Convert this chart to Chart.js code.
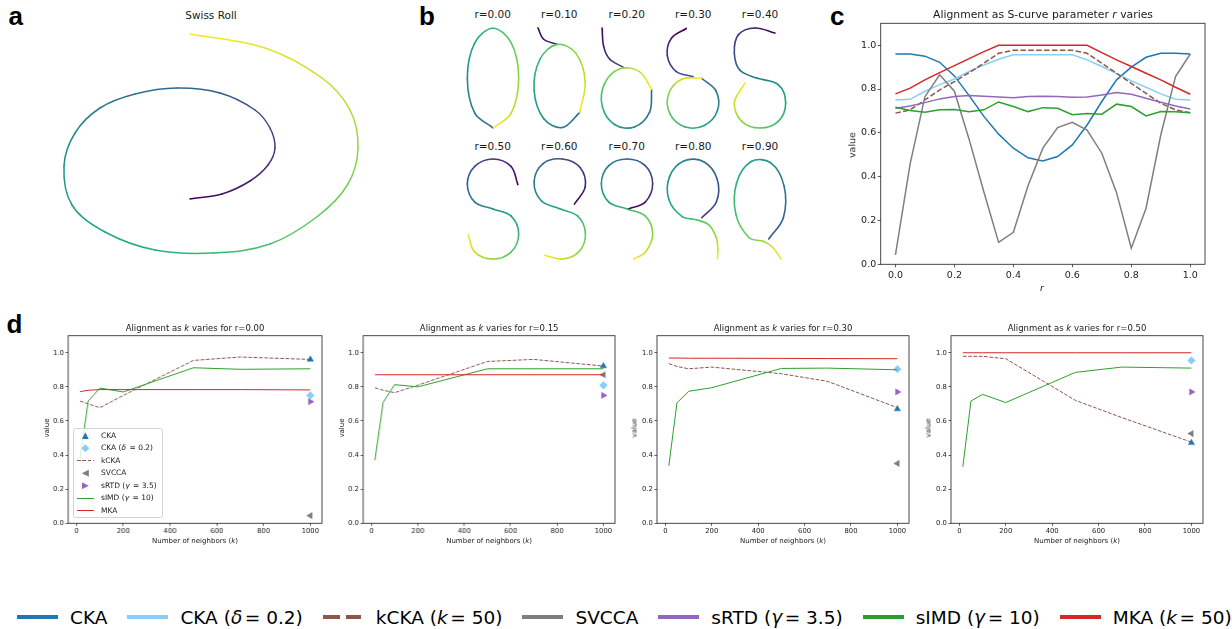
<!DOCTYPE html>
<html>
<head>
<meta charset="utf-8">
<title>Alignment figure</title>
<script src="https://cdn.jsdelivr.net/npm/chart.js@4.4.1/dist/chart.umd.min.js"></script>
<style>
  body { margin: 0; width: 1232px; height: 629px; position: relative; overflow: hidden; background: #fff;
         font-family: "DejaVu Sans", sans-serif; color: #1a1a1a; }
  canvas { position: absolute; }
  #figLegend i, #dLegend i { margin-right: 0.14em; }
  .txt { position: absolute; white-space: nowrap; line-height: 1; transform: translate(-50%, -50%); }
  .panel { position: absolute; font: bold 26px "Liberation Sans", Arial, sans-serif; line-height: 1; color: #000; }
  #figLegend { position: absolute; left: 17px; top: 605px; height: 24px; display: flex; align-items: center;
               font-size: 18.5px; color: #000; white-space: nowrap; }
  #figLegend .item { display: flex; align-items: center; margin-right: 20px; }
  #figLegend .h { width: 41px; height: 3.5px; margin-right: 12px; }
  #dLegend { position: absolute; left: 73.3px; top: 428.3px; width: 90px; height: 90px; box-sizing: border-box;
             border: 1px solid #d4d4d4; border-radius: 2.5px; background: rgba(255,255,255,0.8);
             font-size: 7.5px; color: #1a1a1a; z-index: 2; }
  #dLegend .row { position: absolute; left: 0; height: 0; width: 100%; }
  #dLegend .mk { position: absolute; left: 7.5px; top: -3.5px; width: 7px; height: 7px; }
  #dLegend .ln { position: absolute; left: 2.7px; top: -0.6px; width: 17.3px; height: 1.2px; }
  #dLegend .lt { position: absolute; left: 26.7px; top: 0; transform: translateY(-50%); line-height: 1; white-space: nowrap; }
  .up { clip-path: polygon(50% 0, 100% 100%, 0 100%); }
  .dia { clip-path: polygon(50% 0, 100% 50%, 50% 100%, 0 50%); }
  .left { clip-path: polygon(0 50%, 100% 0, 100% 100%); }
  .right { clip-path: polygon(0 0, 100% 50%, 0 100%); }
</style>
</head>
<body>
<div class="panel" style="left:8.5px;top:3px">a</div>
<div class="panel" style="left:419px;top:3px">b</div>
<div class="panel" style="left:830px;top:3px">c</div>
<div class="panel" style="left:6.5px;top:310.7px">d</div>

<div id="dLegend">
  <div class="row" style="top:6.5px"><span class="mk up" style="background:#1f77b4"></span><span class="lt">CKA</span></div>
  <div class="row" style="top:19px"><span class="mk dia" style="background:#87cefa;left:7px;width:8px;height:8px;top:-4px"></span><span class="lt">CKA (<i>δ</i> = 0.2)</span></div>
  <div class="row" style="top:31.5px"><span class="ln" style="background:repeating-linear-gradient(90deg,#8c564b 0 3.7px,transparent 3.7px 5.3px)"></span><span class="lt">kCKA</span></div>
  <div class="row" style="top:44px"><span class="mk left" style="background:#7f7f7f"></span><span class="lt">SVCCA</span></div>
  <div class="row" style="top:56.5px"><span class="mk right" style="background:#9467bd"></span><span class="lt">sRTD (<i>γ</i> = 3.5)</span></div>
  <div class="row" style="top:69px"><span class="ln" style="background:#2ca02c"></span><span class="lt">sIMD (<i>γ</i> = 10)</span></div>
  <div class="row" style="top:81.5px"><span class="ln" style="background:#d62728"></span><span class="lt">MKA</span></div>
</div>

<div id="figLegend">
  <span class="item"><span class="h" style="background:#1f77b4"></span>CKA</span>
  <span class="item"><span class="h" style="background:#87cefa"></span>CKA (<i>δ</i> = 0.2)</span>
  <span class="item"><span class="h" style="background:linear-gradient(90deg,#8c564b 0 17px,transparent 17px 23px,#8c564b 23px 38px,transparent 38px)"></span>kCKA (<i>k</i> = 50)</span>
  <span class="item"><span class="h" style="background:#7f7f7f"></span>SVCCA</span>
  <span class="item"><span class="h" style="background:#9467bd"></span>sRTD (<i>γ</i> = 3.5)</span>
  <span class="item"><span class="h" style="background:#2ca02c"></span>sIMD (<i>γ</i> = 10)</span>
  <span class="item"><span class="h" style="background:#d62728"></span>MKA (<i>k</i> = 50)</span>
</div>

<script>
// ---------- data ----------

// a: swiss roll, from the inner (purple) end to the outer (yellow) end
const rollX = [0, 0.32, 0.60, 0.78, 0.85, 0.80, 0.65, 0.30, -0.13, -0.55, -0.90, -1.15, -1.26,
               -1.18, -0.85, -0.35, 0.23, 0.80, 1.28, 1.58, 1.68, 1.60, 1.32, 0.75, 0];
const rollY = [-0.49, -0.44, -0.31, -0.15, 0.02, 0.22, 0.40, 0.57, 0.62, 0.56, 0.42, 0.17, -0.16,
               -0.55, -0.82, -1.0, -1.03, -0.94, -0.66, -0.34, 0.02, 0.40, 0.72, 1.02, 1.16];

// b: S-curve for each r, in circle-radius units; each piece is [tStart, tEnd, points]
const curveR00 = [[0.33, 1.0, [[0, -1.94], [-0.71, -1.37], [-1, 0], [-0.71, 1.37], [0, 1.94], [0.71, 1.37], [1, 0], [0.71, -1.37], [0.02, -1.94]]]];
const curveR10 = [
  [0.0, 0.12, [[-0.82, 1.95], [-0.60, 1.51], [-0.10, 1.32]]],
  [0.33, 1.0, [[0.81, -1.34], [0.13, -1.93], [-0.60, -1.58], [-0.97, -0.48], [-0.75, 0.72], [-0.07, 1.31], [0.66, 0.96], [1.02, -0.14], [0.81, -1.34]]]
];
const curveR20 = [
  [0.0, 0.2, [[-0.97, 1.95], [-0.91, 1.23], [-0.68, 0.74], [-0.15, 0.42]]],
  [0.3, 1.0, [[0.96, -0.44], [0.88, -1.33], [0.29, -1.91], [-0.47, -1.82], [-0.96, -1.12], [-0.88, -0.23], [-0.29, 0.35], [0.47, 0.26], [0.96, -0.44]]]
];
const curveR30 = [
  [0.0, 0.28, [[-0.26, 1.93], [-0.84, 1.55], [-1.0, 0.87], [-0.66, 0.26], [0.01, 0.05]]],
  [0.3, 1.0, [[0.33, -0.01], [0.90, -0.51], [0.95, -1.28], [0.44, -1.85], [-0.33, -1.90], [-0.90, -1.39], [-0.95, -0.62], [-0.44, -0.05], [0.33, -0.01]]]
];
const curveR40 = [[0.0, 1.0, [[0.58, 1.75], [-0.19, 1.95], [-0.84, 1.69], [-1.0, 0.97], [-0.78, 0.30], [-0.13, 0.0], [0.71, -0.26], [1.0, -0.97], [0.71, -1.69], [0, -1.95], [-0.71, -1.69], [-1.0, -0.97], [-0.58, -0.19]]]];
const curveR50 = [[0.0, 1.0, [[0.97, 0.95], [0.70, 1.66], [0, 1.95], [-0.71, 1.66], [-1.0, 0.97], [-0.71, 0.27], [0, 0], [0.70, -0.27], [1.0, -0.97], [0.70, -1.68], [0, -1.95], [-0.71, -1.68], [-0.97, -1.0]]]];
const curveR60 = [[0.0, 1.0, [[0.60, 0.19], [1.02, 0.86], [0.82, 1.62], [0.13, 1.95], [-0.62, 1.77], [-0.97, 1.06], [-0.69, 0.32], [0.03, 0.01], [0.72, -0.27], [1.03, -0.94], [0.79, -1.65], [0.14, -1.95], [-0.57, -1.80]]]];
const curveR70 = [[0.0, 1.0, [[0.05, 0.0], [0.71, 0.27], [1.0, 0.98], [0.71, 1.69], [0, 1.95], [-0.71, 1.69], [-1.0, 0.98], [-0.71, 0.27], [0, 0], [0.71, -0.27], [1.0, -0.98], [0.71, -1.69], [0.26, -1.95]]]];
const curveR80 = [[0.15, 1.0, [[0.34, -0.34], [0.91, 0.27], [0.94, 1.17], [0.42, 1.84], [-0.34, 1.88], [-0.91, 1.27], [-0.94, 0.37], [-0.42, -0.30], [0.13, -0.42], [0.62, -0.62], [0.90, -1.10], [0.97, -1.55], [0.95, -1.95]]]];
const curveR90 = [[0.25, 1.0, [[0.34, -1.17], [0.91, -0.34], [0.94, 0.89], [0.42, 1.80], [-0.34, 1.85], [-0.91, 1.02], [-0.94, -0.21], [-0.42, -1.12], [0.13, -1.26], [0.50, -1.50], [0.82, -1.95]]]];
const sCurves = [curveR00, curveR10, curveR20, curveR30, curveR40, curveR50, curveR60, curveR70, curveR80, curveR90];
const sCurveLabels = ["r=0.00", "r=0.10", "r=0.20", "r=0.30", "r=0.40", "r=0.50", "r=0.60", "r=0.70", "r=0.80", "r=0.90"];

// c: alignment vs r
const rValues = [0, 0.05, 0.1, 0.15, 0.2, 0.25, 0.3, 0.35, 0.4, 0.45, 0.5, 0.55, 0.6, 0.65, 0.7, 0.75, 0.8, 0.85, 0.9, 0.95, 1.0];
const ckaC      = [0.96, 0.96, 0.95, 0.922, 0.86, 0.77, 0.675, 0.594, 0.53, 0.486, 0.472, 0.492, 0.545, 0.636, 0.743, 0.842, 0.90, 0.945, 0.963, 0.963, 0.96];
const ckaDeltaC = [0.75, 0.753, 0.79, 0.82, 0.846, 0.88, 0.91, 0.936, 0.956, 0.956, 0.956, 0.956, 0.956, 0.933, 0.903, 0.87, 0.837, 0.808, 0.778, 0.753, 0.75];
const kckaC     = [0.69, 0.705, 0.75, 0.796, 0.834, 0.875, 0.918, 0.963, 0.977, 0.977, 0.977, 0.977, 0.977, 0.963, 0.918, 0.872, 0.826, 0.78, 0.735, 0.705, 0.692];
const svccaC    = [0.043, 0.46, 0.765, 0.865, 0.79, 0.57, 0.33, 0.10, 0.146, 0.36, 0.53, 0.624, 0.648, 0.613, 0.507, 0.327, 0.073, 0.256, 0.59, 0.857, 0.96];
const srtdC     = [0.712, 0.723, 0.738, 0.755, 0.766, 0.77, 0.767, 0.764, 0.76, 0.766, 0.767, 0.766, 0.763, 0.764, 0.773, 0.784, 0.776, 0.758, 0.74, 0.723, 0.709];
const simdC     = [0.717, 0.702, 0.694, 0.705, 0.706, 0.696, 0.705, 0.741, 0.72, 0.697, 0.715, 0.712, 0.683, 0.688, 0.685, 0.731, 0.72, 0.677, 0.697, 0.696, 0.692];
const mkaC      = [0.778, 0.804, 0.842, 0.875, 0.907, 0.939, 0.971, 1.0, 1.0, 1.0, 1.0, 1.0, 1.0, 1.0, 0.966, 0.933, 0.903, 0.872, 0.842, 0.808, 0.776];
const cTicksX = [0, 0.2, 0.4, 0.6, 0.8, 1.0];
const cTicksY = [0, 0.2, 0.4, 0.6, 0.8, 1.0];

// d: alignment vs number of neighbours, one row per r
const dRadii = ["0.00", "0.15", "0.30", "0.50"];
const kValues = [15, 50, 100, 200, 500, 700, 1000];
const kckaK = [
  [0.717, 0.70, 0.678, 0.75, 0.955, 0.975, 0.961],
  [0.795, 0.78, 0.766, 0.81, 0.949, 0.961, 0.922],
  [0.936, 0.92, 0.906, 0.916, 0.877, 0.832, 0.678],
  [0.979, 0.979, 0.979, 0.965, 0.721, 0.62, 0.476]
];
const simdK = [
  [0.38, 0.717, 0.793, 0.77, 0.912, 0.903, 0.906],
  [0.37, 0.708, 0.813, 0.80, 0.906, 0.906, 0.906],
  [0.337, 0.706, 0.774, 0.795, 0.908, 0.91, 0.90],
  [0.331, 0.717, 0.756, 0.708, 0.885, 0.916, 0.91]
];
const mkaK = [
  [0.772, 0.78, 0.784, 0.784, 0.784, 0.784, 0.782],
  [0.871, 0.871, 0.871, 0.871, 0.871, 0.871, 0.871],
  [0.969, 0.969, 0.968, 0.968, 0.967, 0.966, 0.965],
  [1.0, 1.0, 1.0, 1.0, 1.0, 1.0, 1.0]
];
const kMarker = 1000;
const ckaAt1000      = [0.961, 0.922, 0.67, 0.472];
const ckaDeltaAt1000 = [0.75, 0.809, 0.904, 0.955];
const svccaAt1000    = [0.045, 0.871, 0.351, 0.526];
const srtdAt1000     = [0.713, 0.75, 0.77, 0.77];
const dTicksX = [0, 200, 400, 600, 800, 1000];
const dTicksY = [0, 0.2, 0.4, 0.6, 0.8, 1.0];

// ---------- styles ----------
const colors = { cka: "#1f77b4", ckaDelta: "#87cefa", kcka: "#8c564b", svcca: "#7f7f7f",
                 srtd: "#9467bd", simd: "#2ca02c", mka: "#d62728" };
const viridisStops = ["#440154", "#482475", "#414487", "#355f8d", "#2a788e", "#21918c",
                      "#22a884", "#44bf70", "#7ad151", "#bddf26", "#fde725"];

Chart.defaults.font.family = '"DejaVu Sans", sans-serif';
Chart.defaults.color = "#222";
Chart.defaults.animation = false;
Chart.defaults.responsive = false;
Chart.defaults.events = [];
Chart.defaults.plugins.legend.display = false;
Chart.defaults.plugins.tooltip.enabled = false;

const viridisRgb = viridisStops.map(h => [1, 3, 5].map(i => parseInt(h.substr(i, 2), 16)));
function viridis(t) {
  const f = Math.min(Math.max(t, 0), 1) * (viridisRgb.length - 1);
  const i = Math.min(Math.floor(f), viridisRgb.length - 2), u = f - i;
  const a = viridisRgb[i], b = viridisRgb[i + 1];
  return "rgb(" + a.map((v, k) => Math.round(v + (b[k] - v) * u)).join(",") + ")";
}

function addCanvas(left, top, w, h) {
  const c = document.createElement("canvas");
  c.width = w; c.height = h;
  Object.assign(c.style, { left: left + "px", top: top + "px", width: w + "px", height: h + "px" });
  document.body.appendChild(c);
  return c;
}

function label(x, y, html, size, rotate) {
  const d = document.createElement("div");
  d.className = "txt";
  d.style.left = x + "px";
  d.style.top = y + "px";
  d.style.fontSize = size + "px";
  if (rotate) d.style.transform = "translate(-50%, -50%) rotate(-90deg)";
  d.innerHTML = html;
  document.body.appendChild(d);
}

const framePlugin = {
  id: "frame",
  afterDatasetsDraw(chart) {
    const a = chart.chartArea, c = chart.ctx;
    c.save();
    c.strokeStyle = "#333";
    c.lineWidth = 0.9;
    c.strokeRect(a.left, a.top, a.right - a.left, a.bottom - a.top);
    c.restore();
  }
};

function axes(o) {
  const grid = () => ({ display: true, drawOnChartArea: false, drawTicks: true, tickLength: o.tl,
                        tickWidth: 0.8, tickColor: "#333" });
  return {
    x: {
      type: "linear", min: o.xRange[0], max: o.xRange[1], border: { display: false }, grid: grid(),
      afterBuildTicks: s => { s.ticks = o.xTicks.map(v => ({ value: v })); },
      afterFit: s => { s.height = o.xH; },
      ticks: { font: { size: o.font }, color: "#222", padding: o.xPad, maxRotation: 0, autoSkip: false, callback: o.xFmt }
    },
    y: {
      type: "linear", min: o.yRange[0], max: o.yRange[1], border: { display: false }, grid: grid(),
      afterBuildTicks: s => { s.ticks = o.yTicks.map(v => ({ value: v })); },
      afterFit: s => { s.width = o.yW; },
      ticks: { font: { size: o.font }, color: "#222", padding: o.yPad, autoSkip: false, callback: o.yFmt }
    }
  };
}

// line coloured along its length with viridis, one gradient per segment
function curveDatasets(pieces, g2d, width) {
  return pieces.map(([t0, t1, pts], idx) => {
    const tAt = i => t0 + (t1 - t0) * i / (pts.length - 1);
    return {
      data: pts.map(p => ({ x: p[0], y: p[1] })),
      showLine: true, pointRadius: 0, borderWidth: width, tension: 0.36,
      borderCapStyle: "round", borderJoinStyle: "round", borderColor: viridis(t0), order: -idx,
      segment: {
        borderColor: sc => {
          const g = g2d.createLinearGradient(sc.p0.x, sc.p0.y, sc.p1.x, sc.p1.y);
          g.addColorStop(0, viridis(tAt(sc.p0DataIndex)));
          g.addColorStop(1, viridis(tAt(sc.p1DataIndex)));
          return g;
        }
      }
    };
  });
}

function bareChart(canvas, datasets, xr, yr) {
  return new Chart(canvas, {
    type: "scatter",
    data: { datasets },
    options: {
      devicePixelRatio: 1,
      layout: { padding: 0 },
      scales: { x: { display: false, min: xr[0], max: xr[1] }, y: { display: false, min: yr[0], max: yr[1] } }
    }
  });
}

// ---------- a: swiss roll ----------
label(211, 14.5, "Swiss Roll", 10.5);
const rollCanvas = addCanvas(40, 25, 340, 240);
bareChart(rollCanvas,
  curveDatasets([[0, 1, rollX.map((x, i) => [x, rollY[i]])]], rollCanvas.getContext("2d"), 1.5),
  [-1.5, 1.9], [-1.15, 1.25]);

// ---------- b: S-curves ----------
const cellX = [492.7, 559.3, 626.7, 693.3, 760];
const cellY = [78.3, 209.3];
const titleY = [14.3, 146];
const unitPx = 77 / 3;
sCurves.forEach((pieces, i) => {
  const col = i % 5, row = Math.floor(i / 5);
  const w = 64, h = 112;
  const cv = addCanvas(cellX[col] - w / 2, cellY[row] - h / 2, w, h);
  const hx = w / 2 / unitPx, hy = h / 2 / unitPx;
  bareChart(cv, curveDatasets(pieces, cv.getContext("2d"), 1.6), [-hx, hx], [-hy, hy]);
  label(cellX[col], titleY[row], sCurveLabels[i], 10.5);
});

// ---------- c: alignment as r varies ----------
const cSeries = [
  [ckaC, colors.cka, []], [ckaDeltaC, colors.ckaDelta, []], [kckaC, colors.kcka, [5.5, 2.4]],
  [svccaC, colors.svcca, []], [srtdC, colors.srtd, []], [simdC, colors.simd, []], [mkaC, colors.mka, []]
];
new Chart(addCanvas(830, 0, 400, 300), {
  type: "scatter",
  data: {
    datasets: cSeries.map(([vals, col, dash], i) => ({
      data: rValues.map((r, j) => ({ x: r, y: vals[j] })),
      showLine: true, pointRadius: 0, borderColor: col, borderWidth: 1.5, borderDash: dash,
      tension: 0, order: cSeries.length - i
    }))
  },
  options: {
    devicePixelRatio: 1,
    layout: { padding: { left: 0, top: 23.3, right: 25, bottom: 0 } },
    scales: axes({ xRange: [-0.05, 1.05], yRange: [0, 1.1], xTicks: cTicksX, yTicks: cTicksY,
                   xFmt: v => v.toFixed(1), yFmt: v => v.toFixed(1), font: 9.5, tl: 3,
                   xPad: 3, yPad: 1.5, xH: 35.7, yW: 50.7 })
  },
  plugins: [framePlugin]
});
label(1043, 14.7, "Alignment as S-curve parameter <i>r</i> varies", 10.8);
label(852, 145, "value", 9.5, true);
label(1042, 288, "<i>r</i>", 9.5);

// ---------- d: alignment as k varies ----------
const dBoxes = [[68.3, 321.7], [363.3, 615], [656.7, 909.3], [950.7, 1203.3]];
const lineSet = (vals, col, dash, order) => ({
  data: kValues.map((k, j) => ({ x: k, y: vals[j] })),
  showLine: true, pointRadius: 0, borderColor: col, borderWidth: 1, borderDash: dash, order
});
const markSet = (v, col, style, rot, r, order) => ({
  data: [{ x: kMarker, y: v }], pointStyle: style, pointRotation: rot, pointRadius: r,
  pointBackgroundColor: col, pointBorderColor: col, pointBorderWidth: 0.5, order
});
dBoxes.forEach(([L, R], p) => {
  const padR = 8, yW = 40;
  new Chart(addCanvas(L - yW, 325, R - L + yW + padR, 215), {
    type: "scatter",
    data: {
      datasets: [
        markSet(ckaAt1000[p], colors.cka, "triangle", 0, 3.6, 7),
        markSet(ckaDeltaAt1000[p], colors.ckaDelta, "rectRot", 0, 3.8, 6),
        lineSet(kckaK[p], colors.kcka, [3.7, 1.6], 5),
        markSet(svccaAt1000[p], colors.svcca, "triangle", 270, 3.6, 4),
        markSet(srtdAt1000[p], colors.srtd, "triangle", 90, 3.6, 3),
        lineSet(simdK[p], colors.simd, [], 2),
        lineSet(mkaK[p], colors.mka, [], 1)
      ]
    },
    options: {
      devicePixelRatio: 1,
      layout: { padding: { left: 0, top: 10.7, right: padR, bottom: 0 } },
      scales: axes({ xRange: [-36, 1050], yRange: [0, 1.1], xTicks: dTicksX, yTicks: dTicksY,
                     xFmt: v => String(v), yFmt: v => v.toFixed(1), font: 6.8, tl: 2.5,
                     xPad: 1.5, yPad: 1.8, xH: 16.7, yW: yW })
    },
    plugins: [framePlugin]
  });
  const cx = (L + R) / 2;
  label(cx, 328.3, "Alignment as <i>k</i> varies for r=" + dRadii[p], 8.5);
  label(cx, 540.7, "Number of neighbors (<i>k</i>)", 7);
  label(L - 21.6, 428, "value", 7, true);
});
</script>
</body>
</html>
